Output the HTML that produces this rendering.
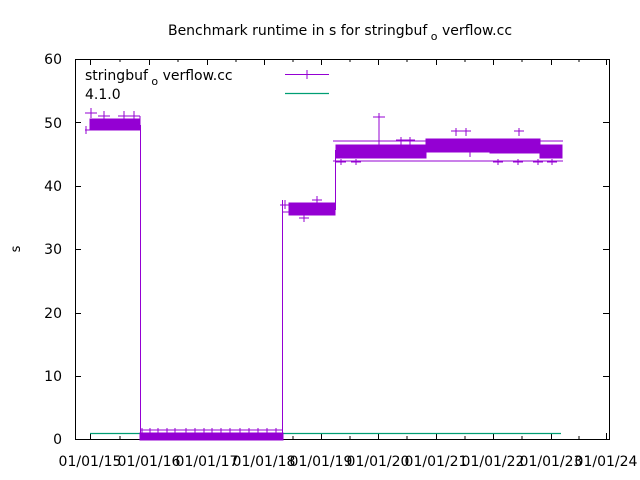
<!DOCTYPE html>
<html><head><meta charset="utf-8"><style>body{margin:0;background:#fff}svg{display:block}text{font-family:"DejaVu Sans","Liberation Sans",sans-serif;fill:#000}</style></head><body>
<svg width="640" height="480" viewBox="0 0 640 480" xmlns="http://www.w3.org/2000/svg">
<text x="340" y="35" font-size="14" text-anchor="middle">Benchmark runtime in s for stringbuf<tspan dy="5" font-size="11"> o</tspan><tspan dy="-5"> verflow.cc</tspan></text>
<g font-size="14" text-anchor="end">
<text x="62" y="444">0</text><text x="62" y="381">10</text><text x="62" y="318">20</text><text x="62" y="254">30</text><text x="62" y="191">40</text><text x="62" y="128">50</text><text x="62" y="64">60</text>
</g>
<text transform="translate(20,249) rotate(-90)" font-size="13" text-anchor="middle">s</text>
<g font-size="14" text-anchor="middle">
<text x="90" y="466">01/01/15</text><text x="149" y="466">01/01/16</text><text x="207" y="466">01/01/17</text><text x="264" y="466">01/01/18</text><text x="321" y="466">01/01/19</text><text x="378" y="466">01/01/20</text><text x="436" y="466">01/01/21</text><text x="493" y="466">01/01/22</text><text x="551" y="466">01/01/23</text><text x="606" y="466">01/01/24</text>
</g>
<g stroke="#000" stroke-width="1">
<path d="M75.5 59.5H609.5V439.5H75.5Z" fill="none"/>
<path d="M75 376.5h6M609 376.5h-6M75 313.5h6M609 313.5h-6M75 249.5h6M609 249.5h-6M75 186.5h6M609 186.5h-6M75 122.5h6M609 122.5h-6"/>
<path d="M90.5 439v-6M90.5 59v6M149.5 439v-6M149.5 59v6M207.5 439v-6M207.5 59v6M264.5 439v-6M264.5 59v6M321.5 439v-6M321.5 59v6M378.5 439v-6M378.5 59v6M436.5 439v-6M436.5 59v6M493.5 439v-6M493.5 59v6M551.5 439v-6M551.5 59v6M606.5 439v-6M606.5 59v6"/>
<path d="M120 439v-3M120 59v3M178 439v-3M178 59v3M236 439v-3M236 59v3M293 439v-3M293 59v3M350 439v-3M350 59v3M407 439v-3M407 59v3M465 439v-3M465 59v3M522 439v-3M522 59v3M579 439v-3M579 59v3"/>
</g>
<text x="85" y="80" font-size="14">stringbuf<tspan dy="5" font-size="11"> o</tspan><tspan dy="-5"> verflow.cc</tspan></text>
<text x="85" y="99" font-size="14">4.1.0</text>
<path d="M285 74.5H329M307 70v9" stroke="#9400d3"/>
<path d="M285 93.5H329" stroke="#009e73" stroke-width="1.2"/>
<path d="M90 433.5H561" stroke="#009e73" stroke-width="1.2"/>
<g stroke="#9400d3" fill="#9400d3">
<path d="M140.5 125V437M282.5 437V200M335.5 210V150" fill="none"/>
<rect x="90" y="119" width="50" height="11"/>
<path d="M85 113h12M91 108v10M85 130h56M98 116h12M104 111v8M118 116h22M124 111v8M134 111v8M86 126v8M140 130v-14" fill="none"/>
<rect x="140" y="433" width="143" height="7"/>
<path d="M140 430h143M142 428v5M150 428v5M158 428v5M167 428v5M175 428v5M186 428v5M195 428v5M204 428v5M212 428v5M221 428v5M230 428v5M240 428v5M249 428v5M258 428v5M267 428v5M276 428v5" fill="none"/>
<rect x="289" y="203" width="46" height="12"/>
<path d="M280 205h10M285 200v9M299 218h10M304 214v8M312 200h10M317 196v8M283 212h52" fill="none"/>
<rect x="336" y="145" width="90" height="13"/>
<rect x="426" y="139" width="64" height="13"/>
<rect x="490" y="139" width="50" height="14"/>
<rect x="540" y="145" width="22" height="13"/>
<path d="M333 141h230M333 161h230M341 159v6M336 162h10M356 159v6M351 162h10M379 113v45M373 117h12M401 137v8M396 140h10M410 137v8M405 140h10M456 128v8M451 131h10M466 128v8M461 131h10M498 159v6M493 162h10M519 128v8M514 131h10M518 159v6M513 162h10M538 159v6M533 162h10M552 159v6M547 162h10M427 150h10M470 152v5" fill="none"/>
</g>
</svg>
</body></html>
